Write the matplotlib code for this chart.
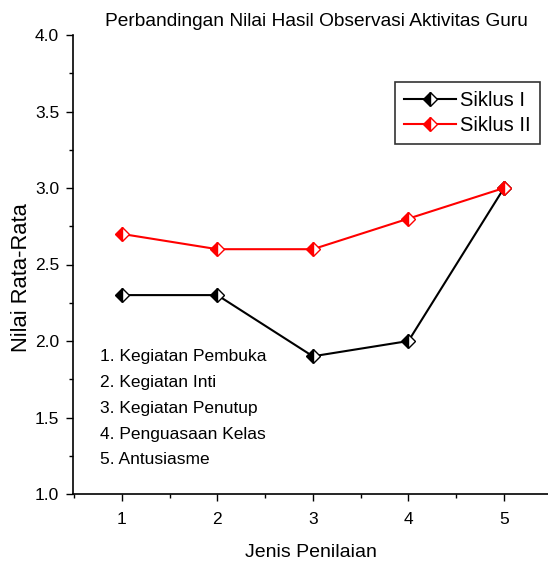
import matplotlib
matplotlib.use("Agg")
import matplotlib.pyplot as plt
from matplotlib.ticker import MultipleLocator
from matplotlib.markers import MarkerStyle

plt.rcParams['font.family'] = ['Liberation Sans', 'DejaVu Sans']

categories = [1, 2, 3, 4, 5]
siklus1 = [2.3, 2.3, 1.9, 2.0, 3.0]
siklus2 = [2.7, 2.6, 2.6, 2.8, 3.0]
notes = ["1. Kegiatan Pembuka", "2. Kegiatan Inti", "3. Kegiatan Penutup",
         "4. Penguasaan Kelas", "5. Antusiasme"]

fig = plt.figure(figsize=(5.48, 5.61), dpi=100)
ax = fig.add_axes([73/548, 67/561, 1 - 73/548, (494-35)/561])

for ys, c, lab in [(siklus1, 'black', 'Siklus I'), (siklus2, 'red', 'Siklus II')]:
    ax.plot(categories, ys, color=c, lw=1.5, label=lab,
            marker=MarkerStyle('D', fillstyle='left'), markersize=7.5,
            markerfacecolor=c, markerfacecoloralt='white', markeredgecolor=c,
            markeredgewidth=1.0)

ax.set_xlim(0.49, 5.46)
ax.set_ylim(1.0, 4.0)
ax.xaxis.set_major_locator(MultipleLocator(1))
ax.xaxis.set_minor_locator(MultipleLocator(0.5))
yt = [1.0, 1.5, 2.0, 2.5, 3.0, 3.5, 4.0]
ax.set_yticks(yt)
ax.set_yticklabels([f"{v:.1f}" for v in yt])
ax.yaxis.set_minor_locator(MultipleLocator(0.25))
ax.tick_params(which='major', direction='out', length=5, width=1, labelsize=12.5, pad=5)
ax.tick_params(axis='x', which='major', pad=8)
ax.tick_params(which='minor', direction='out', length=3, width=1)
for s in ['top', 'right']:
    ax.spines[s].set_visible(False)
for s in ['left', 'bottom']:
    ax.spines[s].set_linewidth(1.2)

ax.set_xlabel("Jenis Penilaian", fontsize=14, labelpad=12)
ax.set_ylabel("Nilai Rata-Rata", fontsize=15.8, va='center')
ax.yaxis.set_label_coords((22 - 73) / 475, (494 - 278) / 459)
fig.text(316/548, 1 - 22/561, "Perbandingan Nilai Hasil Observasi Aktivitas Guru",
         ha='center', va='center', fontsize=13.8)

for i, t in enumerate(notes):
    fig.text(100/548, 1 - (356 + i*26)/561, t, fontsize=12.5, va='center', ha='left')

leg = ax.legend(loc='upper right', bbox_to_anchor=(540/548, 1 - 82/561), bbox_transform=fig.transFigure,
                fontsize=14.5, frameon=True, fancybox=False, edgecolor='black',
                handlelength=2.6, borderpad=0.45, labelspacing=0.3, handletextpad=0.2,
                borderaxespad=0)
leg.get_frame().set_linewidth(1.2)

fig.savefig("out.png", dpi=100)
